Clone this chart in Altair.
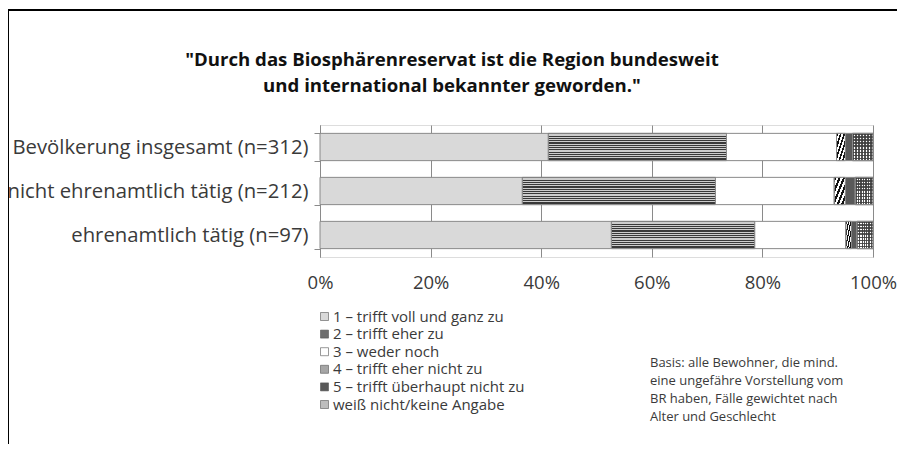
import altair as alt
import pandas as pd

groups = ["Bevölkerung insgesamt (n=312)", "nicht ehrenamtlich tätig (n=212)", "ehrenamtlich tätig (n=97)"]
answers = ["1 – trifft voll und ganz zu", "2 – trifft eher zu", "3 – weder noch",
           "4 – trifft eher nicht zu", "5 – trifft überhaupt nicht zu", "weiß nicht/keine Angabe"]
v1 = [41.3, 36.6, 52.7]
v2 = [32.2, 34.9, 25.9]
v3 = [19.9, 21.5, 16.5]
v4 = [1.6, 2.0, 1.0]
v5 = [1.3, 1.8, 1.0]
v6 = [3.7, 3.2, 2.9]
series = [v1, v2, v3, v4, v5, v6]
legend_greys = ["#d9d9d9", "#6e6e6e", "#ffffff", "#a6a6a6", "#595959", "#bdbdbd"]
title_lines = ['"Durch das Biosphärenreservat ist die Region bundesweit',
               'und international bekannter geworden."']
note_lines = ["Basis: alle Bewohner, die mind.", "eine ungefähre Vorstellung vom",
              "BR haben, Fälle gewichtet nach", "Alter und Geschlecht"]

rows = []
for ai, (a, vals) in enumerate(zip(answers, series)):
    for gi, (g, v) in enumerate(zip(groups, vals)):
        rows.append({"group": g, "answer": a, "order": ai, "value": v / 100.0})
df = pd.DataFrame(rows)

FONT = "Open Sans"
TXT = "#3a3a3a"


def stripes(n, c1, c2, x2, y2):
    stops = []
    for i in range(n):
        stops += [{"offset": i / n, "color": c1}, {"offset": (i + 0.5) / n, "color": c1},
                  {"offset": (i + 0.5) / n, "color": c2}, {"offset": (i + 1) / n, "color": c2}]
    return {"gradient": "linear", "x1": 0, "y1": 0, "x2": x2, "y2": y2, "stops": stops}


base = alt.Chart(df).transform_window(
    end="sum(value)", groupby=["group"], sort=[alt.SortField("order")], frame=[None, 0]
).transform_calculate(start="datum.end - datum.value")

X = alt.X("start:Q", scale=alt.Scale(domain=[0, 1], nice=False),
          axis=alt.Axis(format="%", values=[0, 0.2, 0.4, 0.6, 0.8, 1.0], title=None,
                        grid=True, gridColor="#8a8a8a", gridWidth=1, ticks=False, domain=False,
                        labelFontSize=18.5, labelColor=TXT, labelPadding=16, labelFont=FONT,
                        labelFlush=False))
Y = alt.Y("group:N", sort=groups, scale=alt.Scale(paddingInner=0.38, paddingOuter=0.19),
          axis=alt.Axis(title=None, labelFontSize=20.3, labelColor=TXT, labelFont=FONT,
                        labelPadding=6, tickSize=6, tickColor="#8a8a8a", domainColor="#8a8a8a",
                        tickBand="extent", labelLimit=400))

bars = base.mark_bar(stroke="#8a8a8a", strokeWidth=1).encode(
    x=X, x2="end:Q", y=Y,
    color=alt.Color("answer:N", scale=alt.Scale(domain=answers, range=legend_greys),
                    legend=alt.Legend(title=None, orient="none", legendX=-3, legendY=184,
                                      symbolType="square", symbolSize=64, symbolStrokeColor="#555555",
                                      symbolStrokeWidth=0.6, labelFontSize=15, labelFont=FONT,
                                      labelColor=TXT, rowPadding=1.6, labelOffset=1,
                                      labelLimit=400)),
)


def pattern(idx, fill):
    return base.transform_filter(alt.datum.order == idx).mark_bar(
        fill=fill, stroke="#8a8a8a", strokeWidth=1).encode(x="start:Q", x2="end:Q", y=alt.Y("group:N", sort=groups))


p2 = pattern(1, stripes(12, "#383838", "#cccccc", 0, 1))
p4 = pattern(3, stripes(5, "#111111", "#ffffff", 1, 1))
p6a = pattern(5, stripes(7, "#555555", "#ffffff", 1, 0))
p6b = base.transform_filter(alt.datum.order == 5).mark_bar(
    fill=stripes(9, "rgba(60,60,60,0.85)", "rgba(255,255,255,0)", 0, 1), stroke="#8a8a8a", strokeWidth=1
).encode(x="start:Q", x2="end:Q", y=alt.Y("group:N", sort=groups))

one = alt.Data(values=[{}])
frame_left = alt.Chart(one).mark_rule(color="black", strokeWidth=2).encode(
    x=alt.value(-312), y=alt.value(-116), y2=alt.value(330))
frame_top = alt.Chart(one).mark_rule(color="black", strokeWidth=2).encode(
    x=alt.value(-313), x2=alt.value(600), y=alt.value(-115))

title = alt.Chart(one).mark_text(
    text=title_lines, align="center", baseline="middle", fontSize=18.6, font=FONT,
    fontWeight="bold", color="#111111", lineHeight=26).encode(x=alt.value(132), y=alt.value(-65))

note = alt.Chart(one).mark_text(
    text=note_lines, align="left", baseline="top", fontSize=13, font=FONT, color=TXT,
    lineHeight=18).encode(x=alt.value(330), y=alt.value(232))

chart = alt.layer(bars, p2, p4, p6a, p6b, frame_left, frame_top, title, note).properties(
    width=553, height=132,
    autosize=alt.AutoSizeParams(type="none"),
    padding={"left": 312, "top": 117, "right": 24, "bottom": 187},
).configure_view(stroke=None).configure(background="white")

chart.save("out.html", embed_options={"renderer": "svg", "actions": False})
